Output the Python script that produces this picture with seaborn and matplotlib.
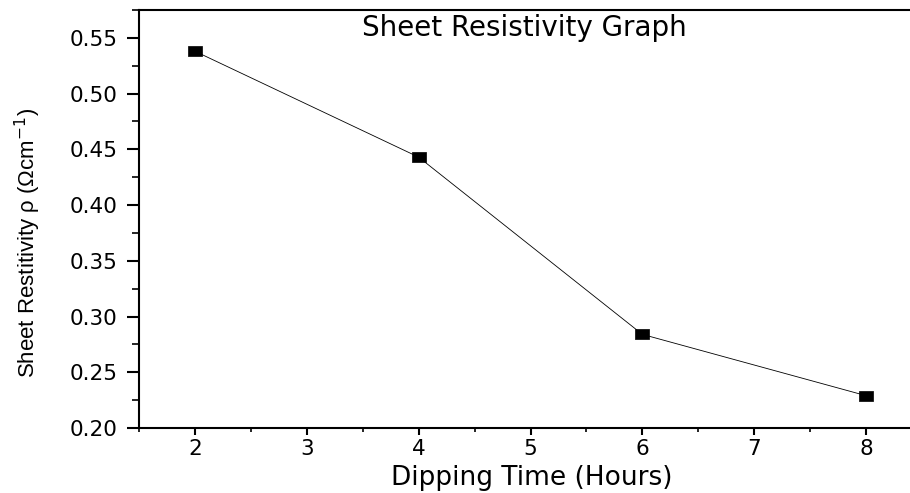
import matplotlib
matplotlib.use("Agg")
import matplotlib.pyplot as plt
import seaborn as sns
import pandas as pd
from matplotlib.ticker import MultipleLocator

dipping_time = [2, 4, 6, 8]
resistivity = [0.538, 0.443, 0.284, 0.229]
x_ticks = [2, 3, 4, 5, 6, 7, 8]
y_ticks = [0.20, 0.25, 0.30, 0.35, 0.40, 0.45, 0.50, 0.55]

sns.set_style("ticks")
plt.rcParams['font.family'] = ['DejaVu Sans']
plt.rcParams['text.color'] = 'black'
plt.rcParams['axes.labelcolor'] = 'black'
plt.rcParams['mathtext.fontset'] = 'custom'
plt.rcParams['mathtext.rm'] = 'Liberation Sans Narrow'
plt.rcParams['mathtext.it'] = 'Liberation Sans Narrow'

df = pd.DataFrame({"Dipping Time (Hours)": dipping_time, "rho": resistivity})

fig = plt.figure(figsize=(9.1, 4.93), dpi=100)
ax = fig.add_axes([139/910, 1 - 428/493, (922 - 139)/910, (428 - 10)/493])

rect = [(-1, -0.68), (1, -0.68), (1, 0.68), (-1, 0.68), (-1, -0.68)]
sns.lineplot(data=df, x="Dipping Time (Hours)", y="rho", ax=ax, color="black",
             linewidth=0.6, marker=rect, markersize=10, markeredgecolor="black",
             markerfacecolor="black", markeredgewidth=0.5)

ax.set_xlim(1.5, 8.5)
ax.set_ylim(0.2, 0.575)
ax.set_xticks(x_ticks)
ax.set_yticks(y_ticks)
ax.set_yticklabels([f"{v:.2f}" for v in y_ticks])
ax.xaxis.set_minor_locator(MultipleLocator(0.5))
ax.yaxis.set_minor_locator(MultipleLocator(0.025))

for s in ["left", "bottom", "top", "right"]:
    ax.spines[s].set_linewidth(1.5)
    ax.spines[s].set_color("black")

ax.tick_params(axis="both", which="both", direction="out", colors="black")
ax.tick_params(axis="y", which="major", length=8.5, width=1.5, labelsize=15.5, pad=7)
ax.tick_params(axis="y", which="minor", length=5, width=1.2)
ax.tick_params(axis="x", which="major", length=5, width=1.5, labelsize=15.5, pad=3)
ax.tick_params(axis="x", which="minor", length=3, width=1.2)

ax.set_xlabel("Dipping Time (Hours)", fontsize=19, va="top", color="black")
ax.xaxis.set_label_coords(0.502, -0.088)

ax.set_ylabel("Sheet Restitivity ρ (Ωcm$^{-1}$)", fontsize=16, color="black",
              family=['Liberation Sans Narrow', 'Liberation Sans', 'DejaVu Sans'])
ax.yaxis.set_label_coords(-0.123, 0.443)

ax.text(0.492, 0.957, "Sheet Resistivity Graph", transform=ax.transAxes,
        ha="center", va="center", fontsize=20, color="black")

fig.savefig("out.png", dpi=100)
